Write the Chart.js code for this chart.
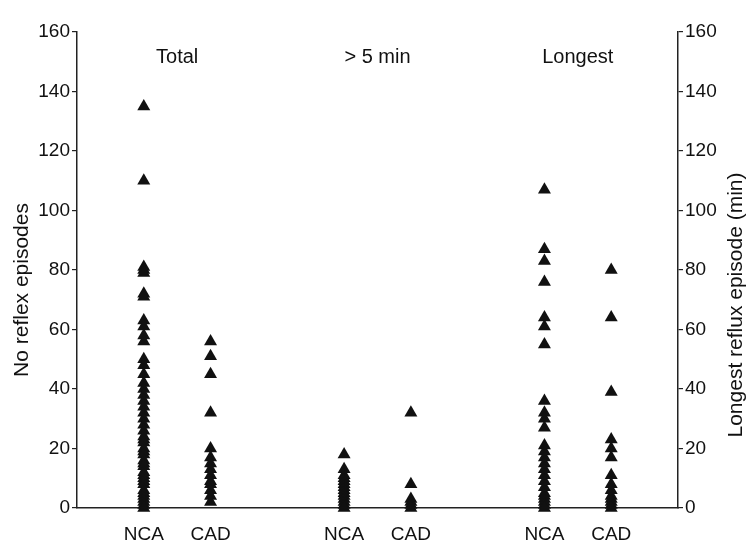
<!DOCTYPE html>
<html>
<head>
<meta charset="utf-8">
<script src="https://cdn.jsdelivr.net/npm/chart.js@4.4.0/dist/chart.umd.min.js"></script>
<style>
  html, body { margin: 0; padding: 0; background: #fff; }
  #wrap { width: 748px; height: 540px; }
</style>
</head>
<body>
<div id="wrap"><canvas id="grafico"></canvas></div>
<script>
// ---- data ----
const groups = ["Total", "> 5 min", "Longest"];
const xLabels = ["", "NCA", "CAD", "", "NCA", "CAD", "", "NCA", "CAD", ""];

const totalNCA = [135, 110, 81, 80, 79, 72, 71, 63, 61, 58, 56, 50, 48, 45, 42, 40, 38, 36, 34, 32,
                  30, 28, 26, 24, 23, 22, 20, 19, 18, 16, 15, 14, 12, 11, 10, 9, 8, 6, 5, 4, 3, 2, 1, 0];
const totalCAD = [56, 51, 45, 32, 20, 17, 15, 13, 11, 9, 8, 6, 4, 2];
const over5NCA = [18, 13, 11, 10, 9, 8, 7, 6, 5, 4, 3, 2, 1, 0];
const over5CAD = [32, 8, 3, 2, 1, 0];
const longestNCA = [107, 87, 83, 76, 64, 61, 55, 36, 32, 30, 27, 21, 19, 17, 15, 13, 11, 9, 7, 5, 4, 3, 2, 1, 0];
const longestCAD = [80, 64, 39, 23, 20, 17, 11, 8, 6, 4, 3, 2, 1, 0];

const yTicks = [0, 20, 40, 60, 80, 100, 120, 140, 160];

const FONT = '"Liberation Sans", Arial, sans-serif';
const INK = "#111";

// column index on the x axis: group g, subject s (0 = NCA, 1 = CAD)
function coluna(g, s) { return 1 + 3 * g + s; }

function serie(values, g, s, axis) {
  return {
    data: values.map(v => ({ x: coluna(g, s), y: v })),
    yAxisID: axis,
    showLine: false,
    pointStyle: "triangle",
    pointRadius: 7.5,
    pointBackgroundColor: INK,
    pointBorderColor: INK,
    pointBorderWidth: 0,
    clip: false
  };
}

// titles over the groups + rotated axis titles
const textos = {
  id: "textos",
  afterDraw(chart) {
    const { ctx, scales: { x } } = chart;
    ctx.save();
    ctx.fillStyle = INK;
    ctx.font = "20px " + FONT;
    ctx.textAlign = "center";
    ctx.textBaseline = "middle";
    groups.forEach((g, i) => {
      const px = (x.getPixelForValue(coluna(i, 0)) + x.getPixelForValue(coluna(i, 1))) / 2;
      ctx.fillText(g, px, 57);
    });
    ctx.font = "21px " + FONT;
    ctx.save();
    ctx.translate(22, 290);
    ctx.rotate(-Math.PI / 2);
    ctx.fillText("No reflex episodes", 0, 0);
    ctx.restore();
    ctx.save();
    ctx.translate(736, 305);
    ctx.rotate(-Math.PI / 2);
    ctx.fillText("Longest reflux episode (min)", 0, 0);
    ctx.restore();
    ctx.restore();
  }
};

function eixoY(pos, largura) {
  return {
    position: pos,
    min: 0,
    max: 160,
    afterBuildTicks: s => { s.ticks = yTicks.map(v => ({ value: v })); },
    afterFit: s => { s.width = largura; },
    ticks: { color: INK, font: { family: FONT, size: 19 }, padding: 2 },
    grid: { drawOnChartArea: false, drawTicks: true, tickLength: 5, color: "#222", lineWidth: 1.2 },
    border: { display: true, color: "#222", width: 1.5 }
  };
}

new Chart(document.getElementById("grafico").getContext("2d"), {
  type: "scatter",
  data: {
    datasets: [
      serie(totalNCA, 0, 0, "y"),
      serie(totalCAD, 0, 1, "y"),
      serie(over5NCA, 1, 0, "y"),
      serie(over5CAD, 1, 1, "y"),
      serie(longestNCA, 2, 0, "y2"),
      serie(longestCAD, 2, 1, "y2")
    ]
  },
  options: {
    responsive: true,
    maintainAspectRatio: false,
    animation: false,
    layout: { padding: { top: 32, left: 0, right: 0, bottom: 0 } },
    plugins: { legend: { display: false }, tooltip: { enabled: false } },
    scales: {
      x: {
        type: "linear",
        min: 0,
        max: xLabels.length - 1,
        afterBuildTicks: s => {
          s.ticks = xLabels.map((l, i) => ({ value: i })).filter(t => xLabels[t.value] !== "");
        },
        afterFit: s => { s.height = 32; },
        ticks: {
          color: INK, font: { family: FONT, size: 19 }, padding: 7, autoSkip: false, maxRotation: 0,
          callback: v => xLabels[v]
        },
        grid: { display: false },
        border: { display: true, color: "#222", width: 1.5 }
      },
      y: eixoY("left", 77),
      y2: eixoY("right", 70)
    }
  },
  plugins: [textos]
});
</script>
</body>
</html>
